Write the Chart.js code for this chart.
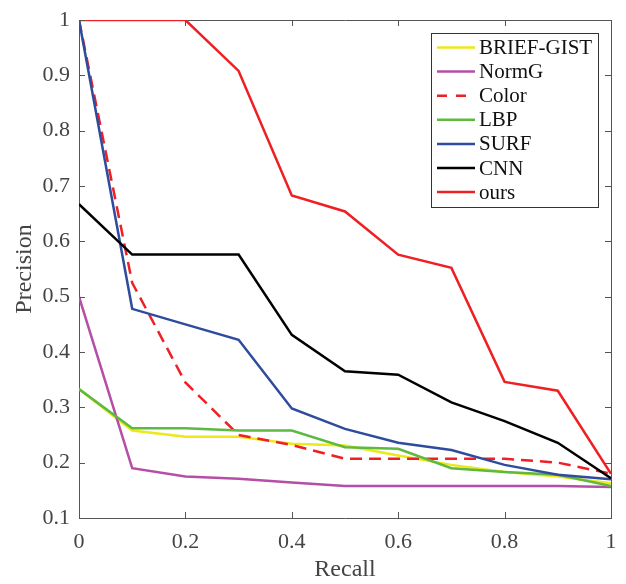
<!DOCTYPE html>
<html>
<head>
<meta charset="utf-8">
<script src="https://cdn.jsdelivr.net/npm/chart.js@4"></script>
<style>
  body { margin: 0; background: #fff; }
  canvas { display: block; }
</style>
</head>
<body>
<canvas id="pr" width="626" height="584"></canvas>
<script>
// recall values on the x axis
const recall = [0, 0.1, 0.2, 0.3, 0.4, 0.5, 0.6, 0.7, 0.8, 0.9, 1];

// precision for each method
const briefGist = [0.333, 0.258, 0.247, 0.247, 0.234, 0.231, 0.213, 0.196, 0.183, 0.175, 0.163];
const normG     = [0.5, 0.19, 0.175, 0.171, 0.164, 0.158, 0.158, 0.158, 0.158, 0.158, 0.156];
const color     = [1, 0.525, 0.345, 0.25, 0.232, 0.207, 0.207, 0.207, 0.207, 0.2, 0.18];
const lbp       = [0.333, 0.262, 0.262, 0.258, 0.258, 0.228, 0.225, 0.19, 0.183, 0.178, 0.158];
const surf      = [1, 0.478, 0.45, 0.422, 0.298, 0.261, 0.236, 0.223, 0.196, 0.178, 0.17];
const cnn       = [0.667, 0.576, 0.576, 0.576, 0.431, 0.365, 0.359, 0.309, 0.275, 0.236, 0.172];
const ours      = [1, 1, 1, 0.908, 0.683, 0.654, 0.576, 0.552, 0.346, 0.33, 0.18];

const labels = ["BRIEF-GIST", "NormG", "Color", "LBP", "SURF", "CNN", "ours"];
const series = [briefGist, normG, color, lbp, surf, cnn, ours];
const colors = ["#ece81a", "#b54ea6", "#ee2024", "#5db940", "#2f4b9e", "#000000", "#ee2024"];
const dashed = [false, false, true, false, false, false, false];

const xTicks = [0, 0.2, 0.4, 0.6, 0.8, 1];

const serif = "'Liberation Serif', 'Times New Roman', serif";
const axisGray = "#555555";
const textGray = "#444444";

const datasets = series.map((vals, i) => ({
  label: labels[i],
  data: vals.map((v, k) => ({x: recall[k], y: v})),
  borderColor: colors[i],
  backgroundColor: colors[i],
  borderWidth: 2.5,
  borderDash: dashed[i] ? [12, 7] : [],
  pointRadius: 0,
  tension: 0,
  fill: false,
  order: series.length - i
}));

// matlab style ticks pointing into the plot on all four sides
const innerTicks = {
  id: 'innerTicks',
  afterDatasetsDraw(chart) {
    const ctx = chart.ctx;
    const a = chart.chartArea;
    const len = 6;
    ctx.save();
    ctx.strokeStyle = axisGray;
    ctx.lineWidth = 1;
    ctx.beginPath();
    chart.scales.x.ticks.forEach(t => {
      const px = Math.round(chart.scales.x.getPixelForValue(t.value)) + 0.5;
      ctx.moveTo(px, a.bottom); ctx.lineTo(px, a.bottom - len);
      ctx.moveTo(px, a.top); ctx.lineTo(px, a.top + len);
    });
    chart.scales.y.ticks.forEach(t => {
      const py = Math.round(chart.scales.y.getPixelForValue(t.value)) + 0.5;
      ctx.moveTo(a.left, py); ctx.lineTo(a.left + len, py);
      ctx.moveTo(a.right, py); ctx.lineTo(a.right - len, py);
    });
    ctx.stroke();
    ctx.restore();
  }
};

// legend box drawn inside the plot, top right
const boxLegend = {
  id: 'boxLegend',
  afterDraw(chart) {
    const ctx = chart.ctx;
    const left = 431, top = 33, right = 598, bottom = 207;
    ctx.save();
    ctx.fillStyle = '#fff';
    ctx.fillRect(left, top, right - left, bottom - top);
    ctx.strokeStyle = '#333';
    ctx.lineWidth = 1;
    ctx.strokeRect(left + 0.5, top + 0.5, right - left, bottom - top);
    ctx.font = "21px " + serif;
    ctx.textBaseline = 'middle';
    ctx.fillStyle = '#111';
    chart.data.datasets.forEach((ds, i) => {
      const y = 47.5 + i * 24.1;
      ctx.beginPath();
      ctx.strokeStyle = ds.borderColor;
      ctx.lineWidth = 2.5;
      ctx.setLineDash(ds.borderDash.length ? [10, 9] : []);
      ctx.moveTo(437, y);
      ctx.lineTo(475, y);
      ctx.stroke();
      ctx.setLineDash([]);
      ctx.fillText(ds.label, 479, y + 1);
    });
    ctx.restore();
  }
};

const hiddenAxis = (pos, min, max, extra) => Object.assign({
  type: 'linear',
  position: pos,
  min: min,
  max: max,
  ticks: { display: false },
  grid: { drawOnChartArea: false, drawTicks: false },
  border: { color: axisGray, width: 1 }
}, extra);

new Chart(document.getElementById("pr"), {
  type: 'line',
  data: { datasets: datasets },
  options: {
    responsive: false,
    animation: false,
    layout: { padding: { top: 20, right: 15, left: 0, bottom: 0 } },
    plugins: {
      legend: { display: false },
      tooltip: { enabled: false }
    },
    scales: {
      x: {
        type: 'linear',
        position: 'bottom',
        min: 0,
        max: 1,
        afterBuildTicks: s => { s.ticks = xTicks.map(v => ({value: v})); },
        ticks: {
          font: { family: serif, size: 22 },
          color: textGray,
          padding: 11,
          callback: v => String(v)
        },
        grid: { drawOnChartArea: false, drawTicks: false },
        border: { color: axisGray, width: 1 },
        title: {
          display: true,
          text: 'Recall',
          font: { family: serif, size: 24 },
          color: textGray,
          padding: { top: 0, bottom: 0 }
        },
        afterFit: s => { s.height = 66; s.paddingLeft = 0; s.paddingRight = 0; }
      },
      x2: hiddenAxis('top', 0, 1, { afterFit: s => { s.height = 0; s.paddingLeft = 0; s.paddingRight = 0; } }),
      y: {
        type: 'linear',
        position: 'left',
        min: 0.1,
        max: 1,
        ticks: {
          stepSize: 0.1,
          font: { family: serif, size: 22 },
          color: textGray,
          padding: 9,
          callback: v => String(Math.round(v * 10) / 10)
        },
        grid: { drawOnChartArea: false, drawTicks: false },
        border: { color: axisGray, width: 1 },
        title: {
          display: true,
          text: 'Precision',
          font: { family: serif, size: 24 },
          color: textGray,
          padding: { top: 10, bottom: 0 }
        },
        afterFit: s => { s.width = 79; s.paddingTop = 0; s.paddingBottom = 0; }
      },
      y2: hiddenAxis('right', 0.1, 1, { afterFit: s => { s.width = 0; s.paddingTop = 0; s.paddingBottom = 0; } })
    }
  },
  plugins: [innerTicks, boxLegend]
});
</script>
</body>
</html>
